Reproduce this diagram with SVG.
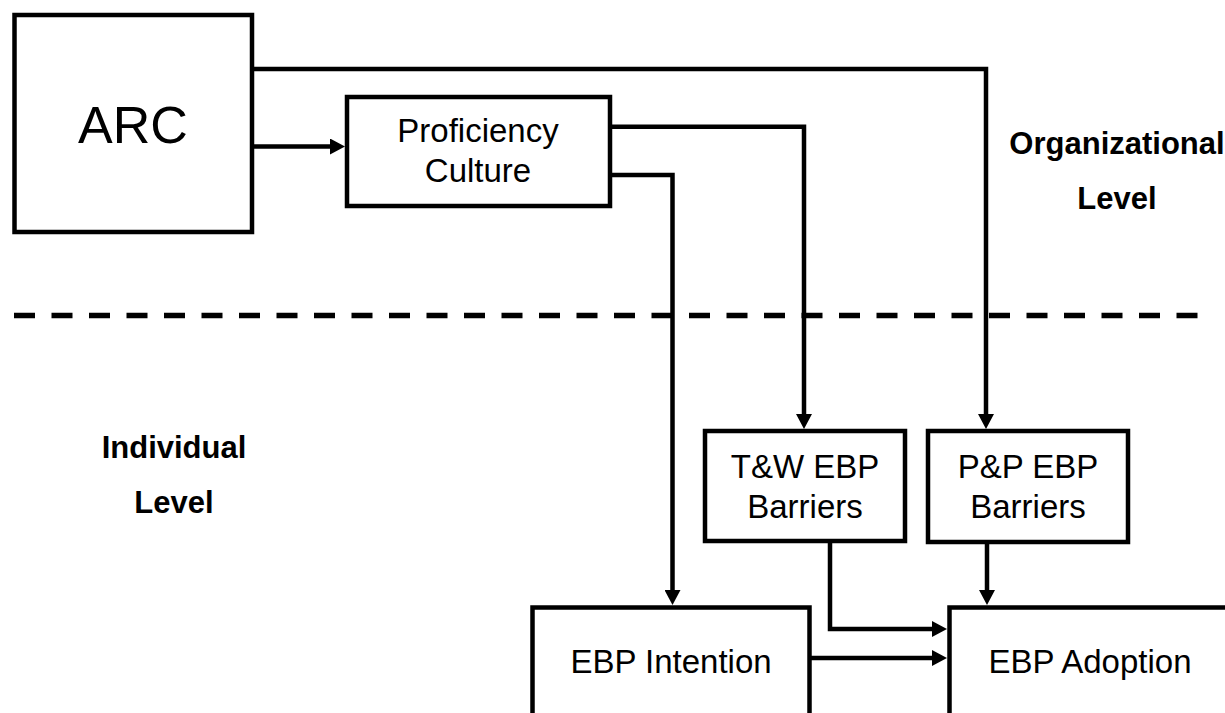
<svg xmlns="http://www.w3.org/2000/svg" width="1225" height="713" viewBox="0 0 1225 713">
<style>
.box{fill:#fff;stroke:#000;stroke-width:4.5}
.lbl{font-family:"Liberation Sans",Arial,sans-serif;font-size:33px;fill:#000;text-anchor:middle}
.big{font-family:"Liberation Sans",Arial,sans-serif;font-size:52px;fill:#000;text-anchor:middle}
.lvl{font-family:"Liberation Sans",Arial,sans-serif;font-size:31px;font-weight:bold;fill:#000;text-anchor:middle}
.con{fill:none;stroke:#000;stroke-width:4.5;marker-end:url(#ah)}
.div{fill:none;stroke:#000;stroke-width:5.5;stroke-dasharray:21 16.5}
</style>
<defs>
<marker id="ah" viewBox="0 0 15 16" markerWidth="15" markerHeight="16" markerUnits="userSpaceOnUse" refX="7" refY="8" orient="auto">
<path d="M0,0 L15,8 L0,16 Z" fill="#000"/>
</marker>
</defs>
<rect width="1225" height="713" fill="#fff"/>
<line class="div" x1="14" y1="315.5" x2="1200" y2="315.5"/>
<text class="lvl" x="1117" y="154">Organizational</text>
<text class="lvl" x="1117" y="209">Level</text>
<text class="lvl" x="174" y="458">Individual</text>
<text class="lvl" x="174" y="513">Level</text>
<g id="connectors">
<path class="con" d="M252,146.5 H337"/>
<path class="con" d="M610,126.7 H804 V421"/>
<path class="con" d="M610,175 H672.5 V597"/>
<path class="con" d="M252,69 H986 V421"/>
<path class="con" d="M830,541 V629 H939"/>
<path class="con" d="M809.5,658 H939"/>
<path class="con" d="M987,543 V597"/>
</g>
<g id="arc">
<rect class="box" x="14.5" y="15" width="237.5" height="217"/>
<text class="big" x="133" y="143">ARC</text>
</g>
<g id="proficiency">
<rect class="box" x="347" y="97" width="263" height="109"/>
<text class="lbl" x="478" y="141.5">Proficiency</text>
<text class="lbl" x="478" y="181.5">Culture</text>
</g>
<g id="tw">
<rect class="box" x="705" y="431" width="200" height="110"/>
<text class="lbl" x="805" y="478">T&amp;W EBP</text>
<text class="lbl" x="805" y="518">Barriers</text>
</g>
<g id="pp">
<rect class="box" x="928" y="431" width="200" height="111"/>
<text class="lbl" x="1028" y="478">P&amp;P EBP</text>
<text class="lbl" x="1028" y="518">Barriers</text>
</g>
<g id="intention">
<rect class="box" x="532.5" y="607.5" width="277" height="200"/>
<text class="lbl" x="671" y="673">EBP Intention</text>
</g>
<g id="adoption">
<rect class="box" x="949.5" y="607.5" width="300" height="200"/>
<text class="lbl" x="1090" y="673">EBP Adoption</text>
</g>
</svg>
